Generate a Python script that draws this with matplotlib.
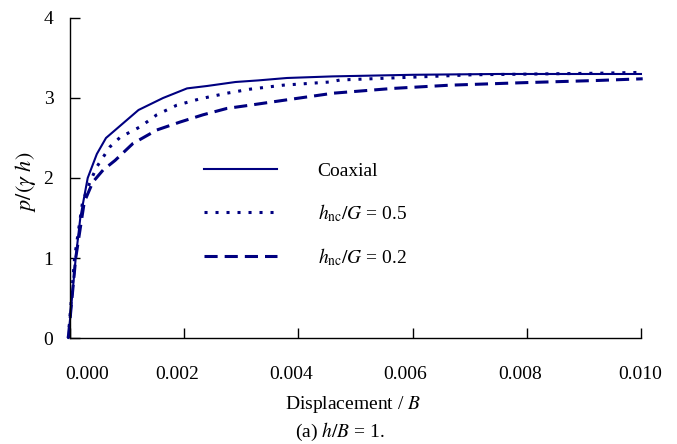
import matplotlib
matplotlib.use("Agg")
import matplotlib.pyplot as plt
import matplotlib.transforms as mtransforms

plt.rcParams['font.family'] = ['Liberation Serif', 'DejaVu Serif']
plt.rcParams['mathtext.fontset'] = 'stix'
plt.rcParams['font.size'] = 14

coax_x = [-0.00003, 0.0001, 0.00018, 0.00031, 0.00047, 0.00063, 0.0012, 0.00163,
          0.00205, 0.0024, 0.0029, 0.0033, 0.0038, 0.0046, 0.006, 0.0075, 0.0100]
coax_y = [0.0, 1.0, 1.5, 2.0, 2.3, 2.5, 2.85, 3.0,
          3.12, 3.15, 3.2, 3.22, 3.25, 3.27, 3.29, 3.3, 3.3]

g05_x = [-0.00003, 0.00008, 0.00022, 0.00035, 0.00047, 0.0007, 0.00088, 0.00123,
         0.00152, 0.00187, 0.00228, 0.00275, 0.00315, 0.00373, 0.00455, 0.00473,
         0.00706, 0.00928, 0.0100]
g05_y = [0.0, 1.0, 1.7, 1.95, 2.14, 2.39, 2.51, 2.64,
         2.79, 2.91, 2.99, 3.06, 3.11, 3.16, 3.2, 3.225,
         3.29, 3.31, 3.32]

g02_x = [-0.00003, 0.0001, 0.00025, 0.0004, 0.00058, 0.00079, 0.0011, 0.00152,
         0.00193, 0.00233, 0.00275, 0.00315, 0.00373, 0.00461, 0.00566, 0.00665,
         0.00788, 0.00928, 0.01003]
g02_y = [0.0, 1.0, 1.7, 1.95, 2.1, 2.22, 2.43, 2.6,
         2.7, 2.79, 2.87, 2.91, 2.97, 3.06, 3.12, 3.16,
         3.19, 3.22, 3.24]

x_ticks = [0.000, 0.002, 0.004, 0.006, 0.008, 0.010]
y_ticks = [0, 1, 2, 3, 4]

navy = '#000080'

fig = plt.figure(figsize=(6.77, 4.44), dpi=100)
ax = fig.add_axes([0.1034, 0.2387, 0.8434, 0.7208])

ax.plot(coax_x, coax_y, color=navy, lw=1.5, label='Coaxial', clip_on=False)
ax.plot(g05_x, g05_y, color=navy, lw=2.2, dashes=(1, 2.6), dash_capstyle='butt',
        label=r'$h_{\mathrm{nc}}/G$ = 0.5', clip_on=False)
ax.plot(g02_x, g02_y, color=navy, lw=2.2, dashes=(4.3, 2.3), dash_capstyle='butt',
        label=r'$h_{\mathrm{nc}}/G$ = 0.2', clip_on=False)

ax.set_xlim(0, 0.010)
ax.set_ylim(0, 4)
ax.set_xticks(x_ticks)
ax.set_xticklabels([f'{v:.3f}' for v in x_ticks])
ax.set_yticks(y_ticks)
ax.set_yticklabels([str(v) for v in y_ticks])
ax.tick_params(axis='both', direction='in', length=7, width=1, labelsize=14)
ax.tick_params(axis='x', pad=20)
ax.tick_params(axis='y', pad=12)

# Excel-style placement of the x tick labels (first pushed right, others nudged left)
shifts = [17, -7, -7, -7, -7, -1]
for lab, dx in zip(ax.get_xticklabels(), shifts):
    lab.set_transform(lab.get_transform() +
                      mtransforms.ScaledTranslation(dx / 100, 0, fig.dpi_scale_trans))

for s in ['top', 'right']:
    ax.spines[s].set_visible(False)
for s in ['left', 'bottom']:
    ax.spines[s].set_linewidth(1.0)

ax.legend(loc='center left', bbox_to_anchor=(0.204, 0.385), frameon=False,
          handlelength=3.75, handletextpad=2.1, labelspacing=1.15, fontsize=14)

fig.text(0.521, 0.088, r'Displacement / $B$', ha='center', va='center', fontsize=14)
fig.text(0.502, 0.027, r'(a) $h/B$ = 1.', ha='center', va='center', fontsize=14)
fig.text(0.037, 0.59, r'$p/(\gamma\ h)$', ha='center', va='center', rotation=90, fontsize=16)

fig.savefig('out.png', dpi=100)
